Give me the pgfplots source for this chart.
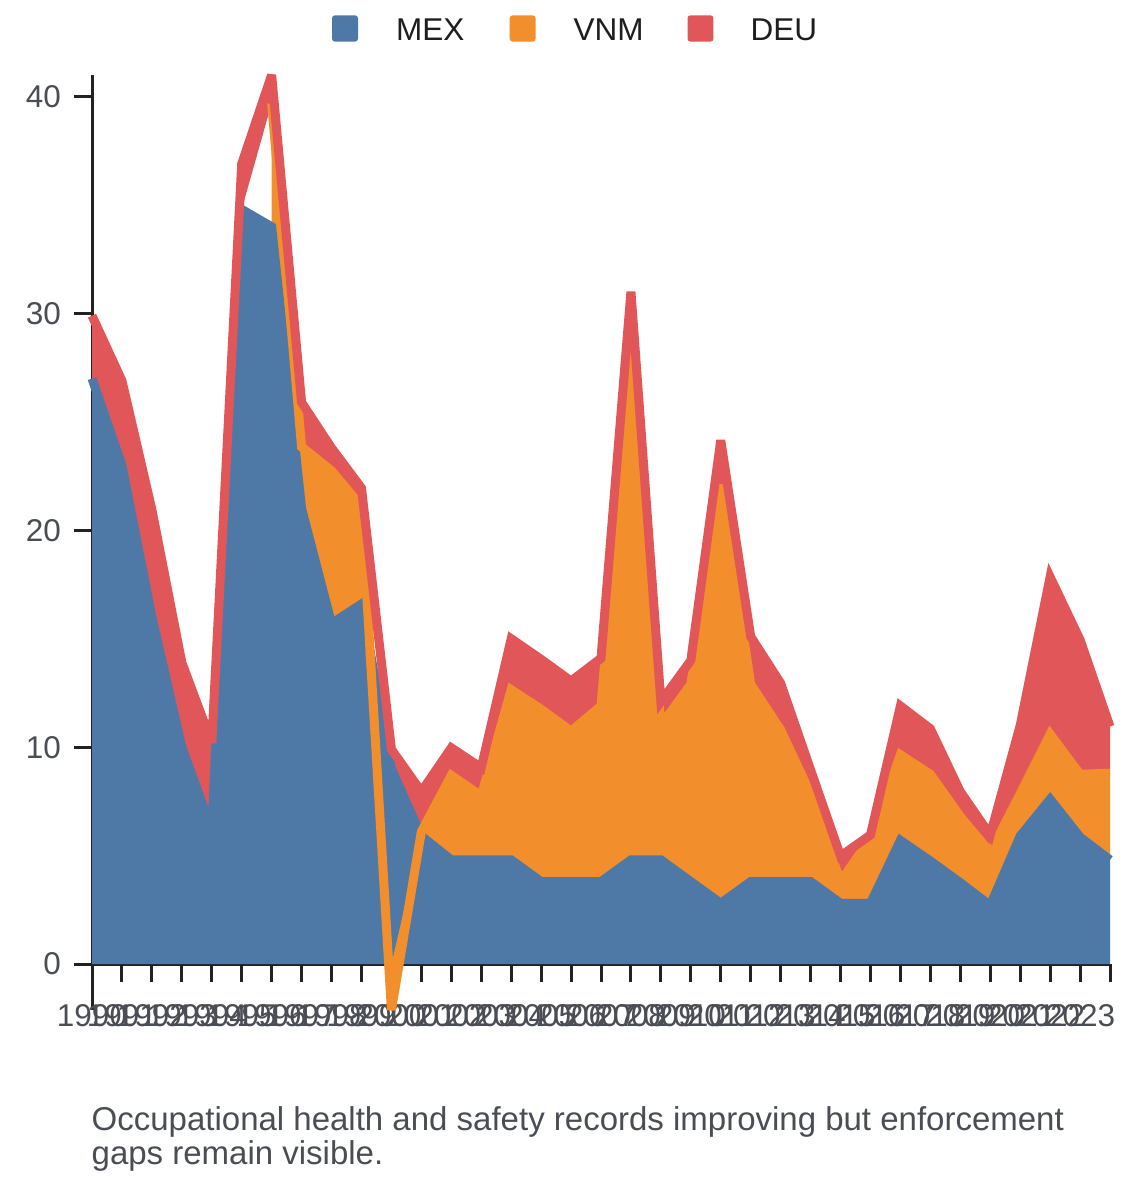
\documentclass[border=0pt]{standalone}
\usepackage{pgfplots}
\pgfplotsset{compat=1.18}
\usepackage{pgfplotstable}
\usepackage{fontspec}
\setmainfont{Liberation Sans}
\definecolor{mex}{HTML}{4E79A7}
\definecolor{vnm}{HTML}{F28E2B}
\definecolor{deu}{HTML}{E15759}
\definecolor{axisc}{HTML}{222222}
\definecolor{labc}{HTML}{4A4E54}
\definecolor{legc}{HTML}{1E1E1E}

% stacked tops: m = MEX, v = MEX+VNM, d = MEX+VNM+DEU
\pgfplotstableread{
year m v d
1990 27 nan 29.9
1991 23 nan 26.9
1992 16 nan 20.95
1993 10 nan 13.9
1994 6.2 nan 10.2
1995 34.8 nan 36.9
1996 34.0 39.7 41
1997 21 23.85 25.9
1998 15.7 22.75 23.8
1999 16.6 21.1 21.95
2000 9 -2.12 9.9
2001 5.9 6.1 7.95
2002 4.8 8.7 9.97
2003 4.8 7.75 9.05
2004 4.8 12.65 15.0
2005 3.8 11.75 14.05
2006 3.8 10.74 13.05
2007 3.8 11.9 14.1
2008 4.8 28.2 31.0
2009 4.8 11.0 12.1
2010 3.8 12.9 14.0
2011 2.8 22.1 24.15
2012 3.8 12.9 15.1
2013 3.8 10.8 12.95
2014 3.8 7.85 8.95
2015 2.8 3.8 4.98
2016 2.8 5.8 5.95
2017 5.7 9.65 11.9
2018 4.75 8.75 10.85
2019 3.75 6.8 7.95
2020 2.7 5.15 5.95
2021 5.9 7.85 11.0
2022 7.6 10.6 17.85
2023 5.85 8.75 14.95
2024 4.8 8.8 10.95
}\tops

% MEX area outline
\pgfplotstableread{
x y
1990 27
1991 23
1992 16
1993 10
1994 6.2
1995 34.8
1996 34.0
1997 21
1998 15.7
1999 16.6
2000 9
2001 5.9
2002 4.8
2003 4.8
2004 4.8
2005 3.8
2006 3.8
2007 3.8
2008 4.8
2009 4.8
2010 3.8
2011 2.8
2012 3.8
2013 3.8
2014 3.8
2015 2.8
2016 2.8
2017 5.7
2018 4.75
2019 3.75
2020 2.7
2021 5.9
2022 7.6
2023 5.85
2024 4.8
2024 0
1990 0
}\mexpoly

% VNM area outline: top forward, bottom backward
\pgfplotstableread{
x y
1996 39.7
1997 23.85
1998 22.75
1999 21.1
2000 -2.12
2001 6.1
2002 8.7
2003 7.75
2004 12.65
2005 11.75
2006 10.74
2007 11.9
2008 28.2
2009 11.0
2010 12.9
2011 22.1
2012 12.9
2013 10.8
2014 7.85
2015 3.8
2016 5.8
2017 9.65
2018 8.75
2019 6.8
2020 5.15
2021 7.85
2022 10.6
2023 8.75
2024 8.8
2024 4.8
2023 5.85
2022 7.6
2021 5.9
2020 2.7
2019 3.75
2018 4.75
2017 5.7
2016 2.8
2015 2.8
2014 3.8
2013 3.8
2012 3.8
2011 2.8
2010 3.8
2009 4.8
2008 4.8
2007 3.8
2006 3.8
2005 3.8
2004 4.8
2003 4.8
2002 4.8
2001 5.9
2000 0
1999 16.6
1998 15.7
1997 21
1996 34.0
}\vnmpoly

% DEU area outline: top forward, bottom backward
\pgfplotstableread{
x y
1990 29.9
1991 26.9
1992 20.95
1993 13.9
1994 10.2
1995 36.9
1996 41
1997 25.9
1998 23.8
1999 21.95
2000 9.9
2001 7.95
2002 9.97
2003 9.05
2004 15.0
2005 14.05
2006 13.05
2007 14.1
2008 31.0
2009 12.1
2010 14.0
2011 24.15
2012 15.1
2013 12.95
2014 8.95
2015 4.98
2016 5.95
2017 11.9
2018 10.85
2019 7.95
2020 5.95
2021 11.0
2022 17.85
2023 14.95
2024 10.95
2024 8.8
2023 8.75
2022 10.6
2021 7.85
2020 5.15
2019 6.8
2018 8.75
2017 9.65
2016 5.8
2015 3.8
2014 7.85
2013 10.8
2012 12.9
2011 22.1
2010 12.9
2009 11.0
2008 28.2
2007 11.9
2006 10.74
2005 11.75
2004 12.65
2003 7.75
2002 8.7
2001 6.1
2000 9
1999 21.1
1998 22.75
1997 23.85
1996 39.7
1995 34.8
1994 6.2
1993 10
1992 16
1991 23
1990 27
}\deupoly

\begin{document}
\begin{tikzpicture}[x=1pt,y=1pt]
\path[use as bounding box] (0,0) rectangle (1140,1182);
\begin{axis}[
  at={(92pt,172pt)}, anchor=south west,
  scale only axis, width=1018pt, height=935pt,
  xmin=1990, xmax=2024, ymin=-2.12, ymax=41,
  axis x line=middle, axis y line=left,
  hide obscured x ticks=false, hide obscured y ticks=false,
  axis line style={draw=axisc, line width=3pt, -},
  xtick={1990,1991,...,2024},
  xticklabels={1990,1991,1992,1993,1994,1995,1996,1997,1998,1999,2000,2001,2002,2003,2004,2005,2006,2007,2008,2009,2010,2011,2012,2013,2014,2015,2016,2017,2018,2019,2020,2021,2022,2023,{}},
  ytick={0,10,20,30,40},
  tick align=outside, major tick length=18pt,
  tick style={draw=axisc, line width=3pt},
  xticklabel style={font=\fontsize{31.5}{31.5}\selectfont, text=labc, anchor=north, inner sep=0pt, yshift=-22pt},
  yticklabel style={font=\fontsize{31.5}{31.5}\selectfont, text=labc, anchor=east, inner sep=0pt, xshift=-13pt},
  /pgf/number format/assume math mode=true,
  clip=false,
]
\addplot[fill=mex, draw=none] table[x=x,y=y] {\mexpoly} -- cycle;
\addplot[fill=vnm, draw=none] table[x=x,y=y] {\vnmpoly} -- cycle;
\addplot[fill=deu, draw=none] table[x=x,y=y] {\deupoly} -- cycle;
\addplot[draw=mex, line width=9pt, line join=miter, miter limit=4] table[x=year,y=m] {\tops};
\addplot[draw=vnm, line width=9pt, line join=miter, miter limit=4] table[x=year,y=v] {\tops};
\addplot[draw=deu, line width=9pt, line join=miter, miter limit=4] table[x=year,y=d] {\tops};
\end{axis}
% legend
\fill[mex, rounded corners=3] (332,1140.3) rectangle (358,1166.7);
\node[anchor=base west, inner sep=0pt, font=\fontsize{31.5}{31.5}\selectfont, text=legc] at (396,1141.5) {MEX};
\fill[vnm, rounded corners=3] (509.7,1140.3) rectangle (535.6,1166.7);
\node[anchor=base west, inner sep=0pt, font=\fontsize{31.5}{31.5}\selectfont, text=legc] at (573.5,1141.5) {VNM};
\fill[deu, rounded corners=3] (687.5,1140.3) rectangle (713.4,1166.7);
\node[anchor=base west, inner sep=0pt, font=\fontsize{31.5}{31.5}\selectfont, text=legc] at (750.5,1141.5) {DEU};
% caption
\node[anchor=base west, inner sep=0pt, font=\fontsize{33}{33}\selectfont, text=labc] at (91.5,51.3) {Occupational health and safety records improving but enforcement};
\node[anchor=base west, inner sep=0pt, font=\fontsize{33}{33}\selectfont, text=labc] at (91.5,17) {gaps remain visible.};
\end{tikzpicture}
\end{document}
